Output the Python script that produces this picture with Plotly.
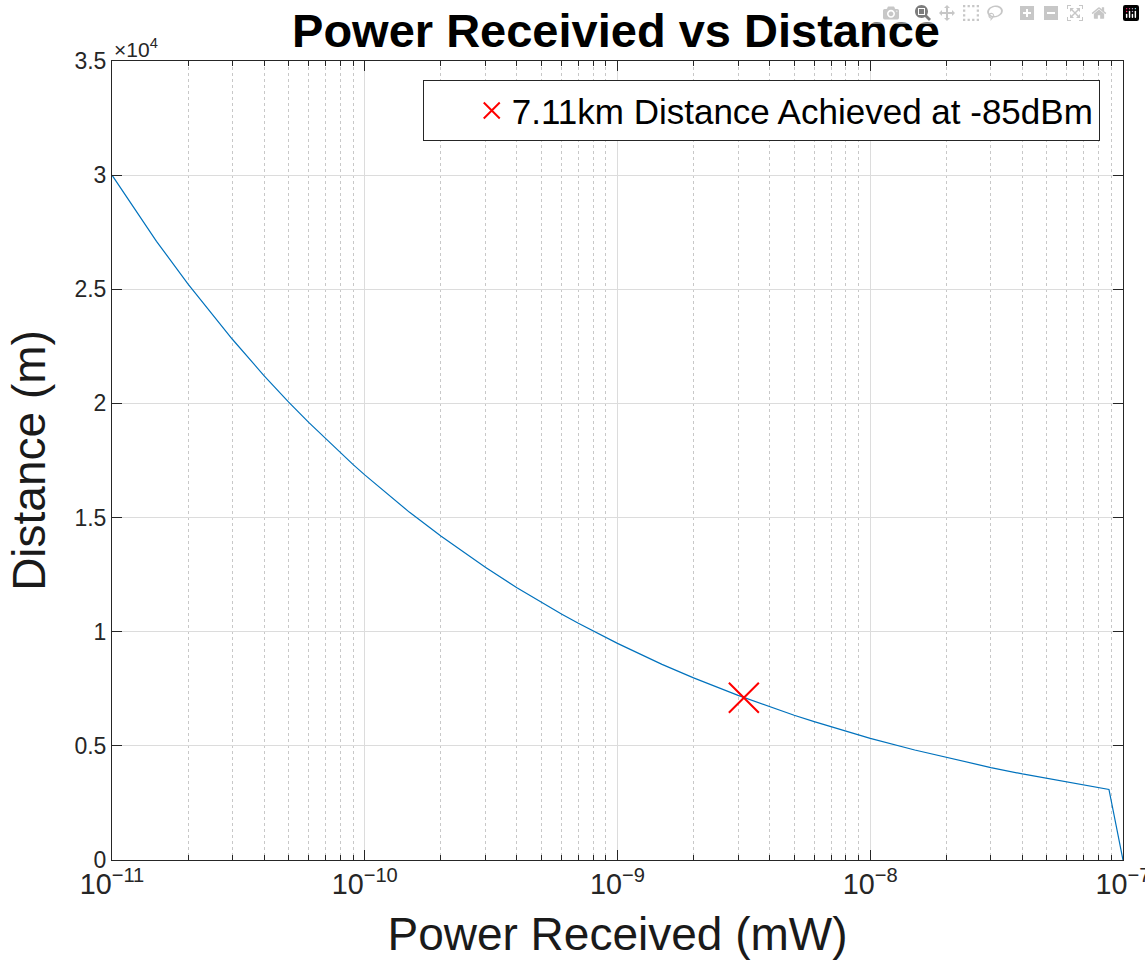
import plotly.graph_objects as go

# Data
power_mw = [1e-11, 1.5e-11, 2e-11, 3e-11, 4e-11, 5e-11, 6e-11, 7e-11, 8e-11, 9e-11,
            1e-10, 1.5e-10, 2e-10, 3e-10, 4e-10, 5e-10, 6e-10, 7e-10, 8e-10, 9e-10,
            1e-9, 1.5e-9, 2e-9, 3e-9, 4e-9, 5e-9, 6e-9, 7e-9, 8e-9, 9e-9,
            1e-8, 1.5e-8, 2e-8, 3e-8, 4e-8, 5e-8, 6e-8, 7e-8, 8e-8, 8.8e-8, 1e-7]
distance_m = [30000, 27100, 25230, 22800, 21210, 20060, 19170, 18450, 17840, 17320,
              16870, 15240, 14190, 12820, 11930, 11280, 10780, 10370, 10030, 9740,
              9490, 8570, 7980, 7210, 6710, 6340, 6060, 5830, 5640, 5480,
              5330, 4820, 4490, 4050, 3770, 3570, 3410, 3280, 3170, 3090, 0]

marker_power = [3.162e-9]
marker_distance = [7110]
marker_label = "7.11km Distance Achieved at -85dBm"

y_tickvals = [0, 5000, 10000, 15000, 20000, 25000, 30000, 35000]
y_ticktext = ["0", "0.5", "1", "1.5", "2", "2.5", "3", "3.5"]

FONT = "Liberation Sans, Arial, Helvetica, sans-serif"
AXCOL = "#262626"

fig = go.Figure()
fig.add_trace(go.Scatter(x=power_mw, y=distance_m, mode="lines",
                         line=dict(color="#0072BD", width=1.2),
                         showlegend=False, hoverinfo="skip"))
fig.add_trace(go.Scatter(x=marker_power, y=marker_distance, mode="markers",
                         name=marker_label,
                         marker=dict(symbol="x-thin", size=30, color="red",
                                     line=dict(color="red", width=2))))

fig.update_layout(
    width=1145, height=960,
    margin=dict(l=112, r=22, t=61, b=100, autoexpand=False),
    paper_bgcolor="white", plot_bgcolor="white",
    font=dict(family=FONT, color=AXCOL),
    title=dict(text="<b>Power Receivied vs Distance</b>", x=0.4985, xanchor="center",
               xref="paper", yref="container", y=0.968, yanchor="middle",
               font=dict(size=47, color="black", family=FONT)),
    legend=dict(x=0.977, y=0.976, xanchor="right", yanchor="top",
                bgcolor="white", bordercolor=AXCOL, borderwidth=1,
                font=dict(size=35, color="black", family=FONT),
                itemsizing="trace", indentation=48),
    showlegend=True,
)

fig.update_xaxes(
    type="log", range=[-11, -6.99995], dtick=1,
    exponentformat="power", showexponent="all",
    tickfont=dict(size=23, color=AXCOL), ticklabeloverflow="allow",
    ticks="inside", ticklen=10, tickcolor=AXCOL, tickwidth=1,
    showline=True, linecolor=AXCOL, linewidth=1, mirror="ticks",
    showgrid=True, gridcolor="#dcdcdc", gridwidth=1,
    zeroline=False, automargin=False,
    minor=dict(dtick="D1", ticks="inside", ticklen=5, tickcolor=AXCOL, showgrid=True,
               gridcolor="#c8c8c8", griddash="dot", gridwidth=1),
    title=dict(text="Power Received (mW)", font=dict(size=46, color="#1a1a1a"), standoff=18),
)
fig.update_yaxes(
    range=[0, 35000],
    tickvals=y_tickvals, ticktext=y_ticktext,
    tickfont=dict(size=23, color=AXCOL),
    ticks="inside", ticklen=10, tickcolor=AXCOL, tickwidth=1,
    showline=True, linecolor=AXCOL, linewidth=1, mirror="ticks",
    showgrid=True, gridcolor="#dcdcdc", gridwidth=1,
    zeroline=False, automargin=False,
    title=dict(text="Distance (m)", font=dict(size=46, color="#1a1a1a"), standoff=14),
)

fig.add_annotation(xref="paper", yref="paper", x=0, y=1, xanchor="left", yanchor="bottom",
                   text="×10<sup>4</sup>", showarrow=False, yshift=-2,
                   font=dict(size=21, color=AXCOL, family=FONT))

fig.write_html("out.html",
               post_script="document.body.style.margin='0';document.body.style.overflow='hidden';")
